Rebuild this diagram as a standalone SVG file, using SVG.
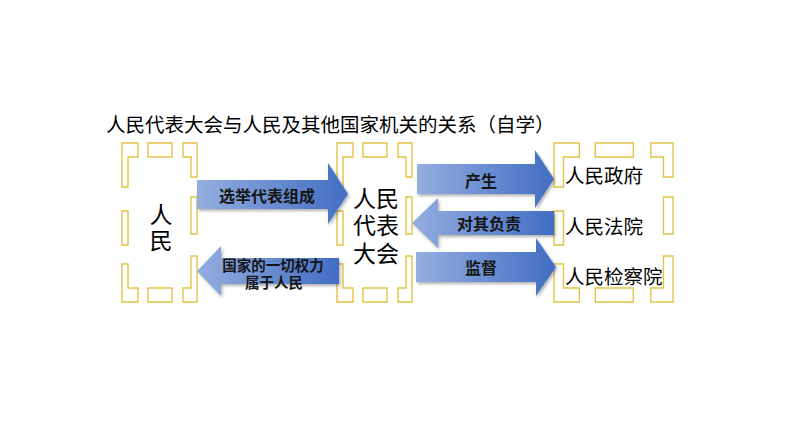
<svg xmlns="http://www.w3.org/2000/svg" xmlns:xlink="http://www.w3.org/1999/xlink" width="794" height="447" viewBox="0 0 794 447">
<style>
.fr path{fill:none;stroke:#E3C244;stroke-width:1.4;vector-effect:non-scaling-stroke}
.arrow{fill:url(#blueGrad);filter:url(#shadow)}
.al{font-family:"Noto Sans CJK SC","Noto Sans",sans-serif;font-weight:bold;fill:#151515;text-anchor:middle;dominant-baseline:central}
.nt{font-family:"Noto Sans CJK SC","Noto Sans",sans-serif;fill:#000;dominant-baseline:central}
</style>
<defs>
<linearGradient id="blueGrad" x1="0" y1="0" x2="1" y2="0">
<stop offset="0" stop-color="#94AEE0"/>
<stop offset="1" stop-color="#416DC3"/>
</linearGradient>
<filter id="shadow" x="-10%" y="-20%" width="130%" height="150%">
<feDropShadow dx="1.5" dy="2" stdDeviation="1.5" flood-color="#000" flood-opacity="0.3"/>
</filter>
<g id="frameShape" class="fr">
<path d="M0,0 H16 V14 H6 V44 H0 Z"/>
<path d="M26,0 H50 V14 H26 Z"/>
<path d="M61,0 H75 V34 H69 V14 H61 Z"/>
<path d="M69,54 H75 V91 H69 Z"/>
<path d="M75,159 H61 V145 H69 V113 H75 Z"/>
<path d="M26,145 H50 V159 H26 Z"/>
<path d="M0,159 H16 V145 H6 V121 H0 Z"/>
<path d="M0,68 H6 V102 H0 Z"/>
</g>
</defs>
<rect width="794" height="447" fill="#fff"/>
<g id="title">
<text class="nt" x="106" y="123" font-size="19.5">人民代表大会与人民及其他国家机关的关系（自学）</text>
</g>
<g id="node-people">
<use xlink:href="#frameShape" href="#frameShape" transform="translate(122,143)"/>
<text class="nt" x="161" y="213" font-size="23" text-anchor="middle">人<tspan x="161" dy="26">民</tspan></text>
</g>
<g id="node-npc">
<use xlink:href="#frameShape" href="#frameShape" transform="translate(337,143)"/>
<text class="nt" x="376" y="197" font-size="23" text-anchor="middle">人民<tspan x="376" dy="27">代表</tspan><tspan x="376" dy="28">大会</tspan></text>
</g>
<g id="node-organs">
<use xlink:href="#frameShape" href="#frameShape" transform="translate(554,143) scale(1.587,1)"/>
<text class="nt" x="565" y="174" font-size="19.5">人民政府</text>
<text class="nt" x="565" y="225" font-size="19.5">人民法院</text>
<text class="nt" x="565" y="275" font-size="19.5">人民检察院</text>
</g>
<g id="connectors">
<g id="c-elect">
<path class="arrow" d="M197,180 H328 V163 L348,194 L328,224 V209 H197 Z"/>
<text class="al" x="267" y="195" font-size="16">选举代表组成</text>
</g>
<g id="c-power">
<path class="arrow" d="M197,271 L221,246 V258 H339 V284 H221 V296 Z"/>
<text class="al" x="273" y="264" font-size="14.5">国家的一切权力<tspan x="274" dy="17">属于人民</tspan></text>
</g>
<g id="c-produce">
<path class="arrow" d="M417,164 H535 V150 L554,179 L535,208 V194 H417 Z"/>
<text class="al" x="481" y="180" font-size="16">产生</text>
</g>
<g id="c-responsible">
<path class="arrow" d="M412,223 L438,198 V211 H554 V235 H438 V248 Z"/>
<text class="al" x="489" y="223" font-size="16">对其负责</text>
</g>
<g id="c-supervise">
<path class="arrow" d="M416,252 H536 V238 L556,267 L536,296 V282 H416 Z"/>
<text class="al" x="481" y="267" font-size="16">监督</text>
</g>
</g>
</svg>
